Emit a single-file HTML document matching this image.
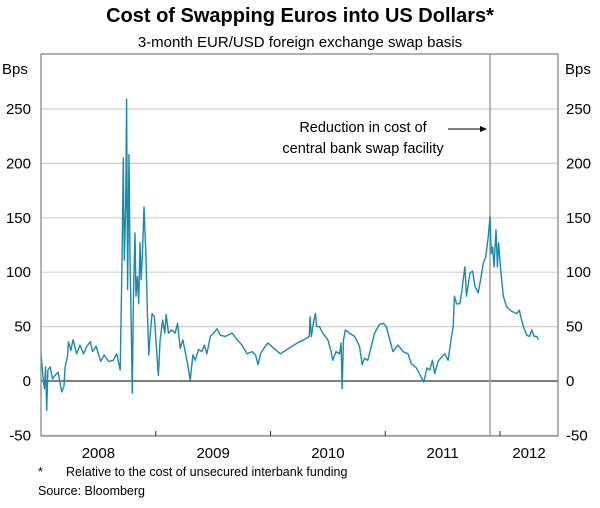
<!DOCTYPE html>
<html><head><meta charset="utf-8"><style>
body{margin:0;background:#fff;font-family:"Liberation Sans",sans-serif}
svg text{font-family:"Liberation Sans",sans-serif;fill:#000}
</style></head><body>
<svg id="c" width="600" height="503">
<text x="300" y="22" text-anchor="middle" font-size="20" font-weight="bold">Cost of Swapping Euros into US Dollars*</text>
<text x="300" y="47" text-anchor="middle" font-size="15">3-month EUR/USD foreign exchange swap basis</text>
<text x="2" y="74" font-size="15">Bps</text>
<text x="565" y="74" font-size="15">Bps</text>
<g id="grid"></g>
<line x1="490" y1="54" x2="490" y2="436" stroke="#a0a0a0" stroke-width="1.5"/>
<text x="363" y="132" text-anchor="middle" font-size="14.5">Reduction in cost of</text>
<text x="363" y="153" text-anchor="middle" font-size="14.5">central bank swap facility</text>
<line x1="448" y1="129" x2="482" y2="129" stroke="#000"/>
<polygon points="487,129 480,126 480,132" fill="#000"/>
<path id="series" fill="none" stroke="#1a8aa8" stroke-width="1.4" stroke-linejoin="round"/>
<rect x="41" y="54" width="517" height="382" fill="none" stroke="#888" stroke-width="1.3"/>
<g id="xax"></g>
<text x="38" y="476" font-size="12.5">*</text>
<text x="66" y="476" font-size="12.5">Relative to the cost of unsecured interbank funding</text>
<text x="38" y="495" font-size="12.5">Source: Bloomberg</text>
</svg>
<script>
const years=[0.00,0.02,0.03,0.04,0.05,0.06,0.08,0.10,0.12,0.15,0.18,0.20,0.21,0.23,0.24,0.26,0.28,0.31,0.34,0.37,0.40,0.43,0.45,0.48,0.52,0.55,0.59,0.63,0.66,0.69,0.706,0.717,0.726,0.738,0.746,0.755,0.767,0.776,0.787,0.796,0.805,0.819,0.828,0.840,0.851,0.863,0.872,0.883,0.898,0.915,0.927,0.939,0.950,0.968,0.988,1.003,1.023,1.038,1.061,1.079,1.090,1.111,1.140,1.169,1.190,1.213,1.236,1.257,1.277,1.300,1.324,1.344,1.373,1.402,1.423,1.446,1.475,1.504,1.534,1.563,1.606,1.665,1.708,1.752,1.796,1.840,1.869,1.892,1.913,1.942,1.977,2.029,2.087,2.146,2.204,2.251,2.294,2.338,2.344,2.356,2.373,2.391,2.402,2.426,2.455,2.499,2.528,2.542,2.571,2.601,2.615,2.624,2.636,2.653,2.688,2.732,2.776,2.799,2.819,2.848,2.878,2.907,2.950,2.985,3.009,3.032,3.067,3.111,3.155,3.198,3.227,3.271,3.306,3.335,3.364,3.388,3.411,3.431,3.461,3.490,3.519,3.548,3.577,3.592,3.603,3.621,3.650,3.665,3.679,3.694,3.708,3.738,3.761,3.781,3.810,3.831,3.854,3.875,3.898,3.913,3.924,3.936,3.948,3.965,3.977,3.988,4.006,4.029,4.058,4.102,4.146,4.169,4.181,4.204,4.233,4.257,4.277,4.297,4.321,4.335];
const values=[25,1,-7,13,-27,10,13,2,5,8,-10,-5,13,22,36,28,38,25,33,25,32,36,27,32,18,24,18,19,25,10,108,205,111,160,259,84,208,114,47,-11,75,136,78,96,71,127,93,114,160,114,62,24,41,62,59,35,5,38,56,44,61,44,47,44,53,30,38,27,16,1,24,19,29,27,33,25,41,44,48,42,41,44,38,33,25,27,24,15,25,30,35,30,25,29,33,36,38,41,59,41,53,62,50,50,44,38,27,19,27,25,35,-7,38,47,44,41,32,15,21,19,32,44,52,53,50,41,27,33,27,25,16,12,5,-1,12,10,19,7,18,22,25,19,41,50,78,71,71,81,93,105,78,99,101,87,81,93,108,114,133,151,117,123,105,139,105,127,102,78,68,64,62,65,59,50,42,41,47,41,41,38];
const yTicks=[-50,0,50,100,150,200,250];
const yearLabels=["2008","2009","2010","2011","2012"];
const X=t=>41+t*114.75, Y=v=>381-v*54.4/50;
const NS="http://www.w3.org/2000/svg";
const g=document.getElementById('grid'), xa=document.getElementById('xax');
function mk(p,tag,a){const e=document.createElementNS(NS,tag);for(const k in a)e.setAttribute(k,a[k]);p.appendChild(e);return e;}
yTicks.forEach(v=>{
 const l=mk(g,'line',{x1:41,x2:558,y1:Y(v),y2:Y(v),stroke:v===0?'#333':'#cfcfcf','stroke-width':1.2});
 
 
 const a=mk(g,'text',{x:31,y:Y(v)+5,'text-anchor':'end','font-size':15});a.textContent=v;
 
 
 const b=mk(g,'text',{x:566,y:Y(v)+5,'font-size':15});b.textContent=v;
 
 
});
yearLabels.forEach((s,i)=>{
 if(i>0){const t=mk(xa,'line',{x1:X(i),x2:X(i),y1:431,y2:436,stroke:'#333'});
 
 }
 const cx=i<4?X(i+0.5):(X(4)+558)/2;
 const e=mk(xa,'text',{x:cx,y:458,'text-anchor':'middle','font-size':15});e.textContent=s;
 
 
});
document.getElementById('series').setAttribute('d',years.map((t,i)=>(i?'L':'M')+X(t).toFixed(1)+','+Y(values[i]).toFixed(1)).join(''));
</script>
</body></html>
